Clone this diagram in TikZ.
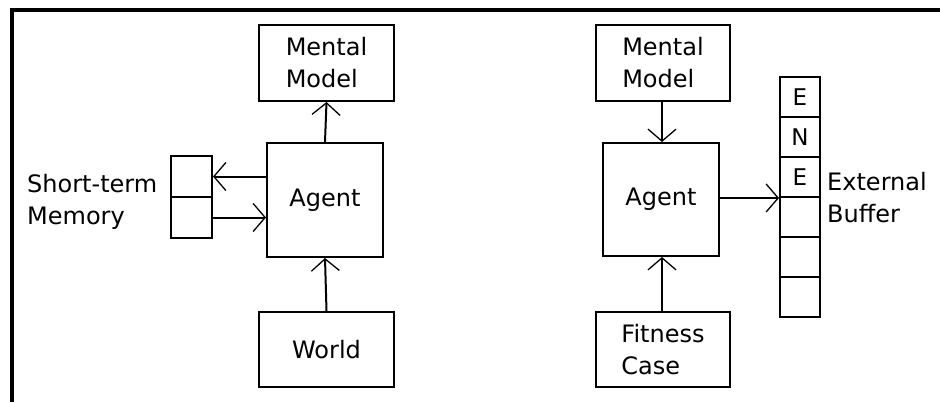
\documentclass[tikz,border=0pt]{standalone}
\usepackage{fontspec}
\setmainfont{DejaVu Sans}
\usetikzlibrary{arrows.meta}
\begin{document}
\begin{tikzpicture}[x=1pt,y=-1pt,
  lbl/.style={font=\fontsize{24}{32}\selectfont, align=left},
  box/.style={draw, line width=2pt, inner sep=0pt, lbl},
  cell/.style={draw, line width=2pt, inner sep=0pt, minimum width=40pt, minimum height=40pt, font=\fontsize{23}{26}\selectfont},
  arr/.style={line width=2pt, -{Straight Barb[length=12pt,width=28pt,line width=1.3pt]}}]
  \useasboundingbox (0,0) rectangle (940,402);
  % outer frame (top and left edges)
  \draw[line width=4pt] (12,402) -- (12,10.3) -- (940,10.3);

  % left diagram
  \node[box, minimum width=135pt, minimum height=76pt] (mmL) at (326.5,63) {Mental\\Model};
  \node[box, minimum width=116pt, minimum height=114pt] (agL) at (325,200) {Agent};
  \node[box, minimum width=135pt, minimum height=75pt] (world) at (326.5,349.5) {World};
  \node[cell, minimum width=41pt, minimum height=41pt] (stm1) at (191.5,176.5) {};
  \node[cell, minimum width=41pt, minimum height=41pt] (stm2) at (191.5,217.5) {};
  \node[lbl, anchor=west, inner sep=0pt] (stmlbl) at (27,201.5) {Short-term\\Memory};
  \draw[arr] (agL.west |- stm1.east) -- (stm1.east);
  \draw[arr] (stm2.east) -- (agL.west |- stm2.east);
  \draw[arr] (agL.north) -- (mmL.south);
  \draw[arr] (world.north) -- (agL.south);

  % right diagram
  \node[box, minimum width=134pt, minimum height=76pt] (mmR) at (663,63) {Mental\\Model};
  \node[box, minimum width=116pt, minimum height=113pt] (agR) at (661,199.5) {Agent};
  \node[box, minimum width=134pt, minimum height=75pt] (fit) at (663,349.5) {Fitness\\Case};
  \foreach \i/\t in {1/E,2/N,3/E,4/,5/,6/}
    \node[cell] (b\i) at (800,{57+40*\i}) {\t};
  \node[lbl, anchor=west, inner sep=0pt] (buflbl) at (827,197.5) {External\\Buffer};
  \draw[arr] (mmR.south -| 662,0) -- (agR.north -| 662,0);
  \draw[arr] (fit.north -| 662,0) -- (agR.south -| 662,0);
  \draw[arr] (agR.east |- b3.south west) -- (b3.south west);
\end{tikzpicture}
\end{document}
